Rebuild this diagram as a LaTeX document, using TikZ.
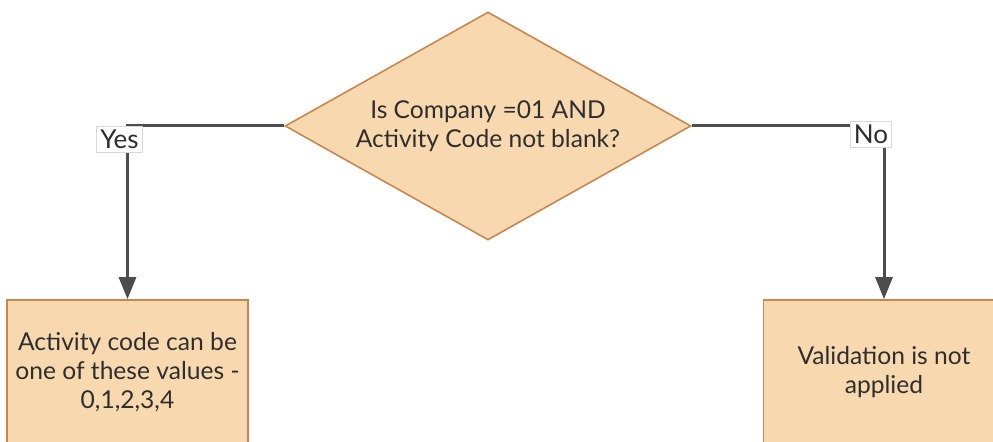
\documentclass[tikz,border=0pt]{standalone}
\usepackage{fontspec}
\setmainfont{Lato}
\usepackage{xcolor}
\usepackage{tikz}
\usetikzlibrary{shapes.geometric,arrows.meta}

\definecolor{boxfill}{HTML}{F8D9AF}
\definecolor{boxline}{HTML}{C98650}
\definecolor{flowline}{HTML}{4D4D4D}
\definecolor{ink}{HTML}{2E2E2E}

\begin{document}
\begin{tikzpicture}[x=0.5pt, y=0.5pt]
                \tikzstyle{decision} = [diamond, aspect=1.78, minimum width=203pt, minimum height=114pt, inner sep=0pt, align=center, draw=boxline, line width=0.8pt, fill=boxfill, text=ink, font=\fontsize{12.3}{14.5}\selectfont]
                \tikzstyle{outcome} = [rectangle, minimum width=120.5pt, minimum height=72pt, align=center, draw=boxline, line width=0.8pt, fill=boxfill, text=ink, font=\fontsize{12.3}{14.5}\selectfont]
                \tikzstyle{lbl} = [rectangle, fill=white, draw=black!15, line width=0.4pt, inner sep=1.8pt, text=ink, font=\fontsize{13}{15}\selectfont]
                \tikzstyle{arrow} = [line width=1.5pt, draw=flowline, -{Triangle[width=8.5pt,length=11pt]}]

                \useasboundingbox (0,0) rectangle (993,442);

                \node (check) [decision] at (488,316) {Is Company =01 AND\\Activity Code not blank?};
                \node (yesbox) [outcome, below of=check, node distance=123pt, xshift=-180.25pt] {Activity code can be\\one of these values -\\0,1,2,3,4};
                \node (nobox) [outcome, below of=check, node distance=123pt, xshift=198pt] {Validation is not\\applied};

                \coordinate (yescorner) at (yesbox.north |- check.west);
                \coordinate (nocorner) at (nobox.north |- check.east);

                \draw [arrow] (check.west) -- (yescorner) -- (yesbox.north);
                \draw [arrow] (check.east) -- (nocorner) -- (nobox.north);

                \node (yeslbl) [lbl] at ([shift={(-8,-13)}]yescorner) {Yes};
                \node (nolbl) [lbl] at ([shift={(-13,-8)}]nocorner) {No};
            \end{tikzpicture}
\end{document}
